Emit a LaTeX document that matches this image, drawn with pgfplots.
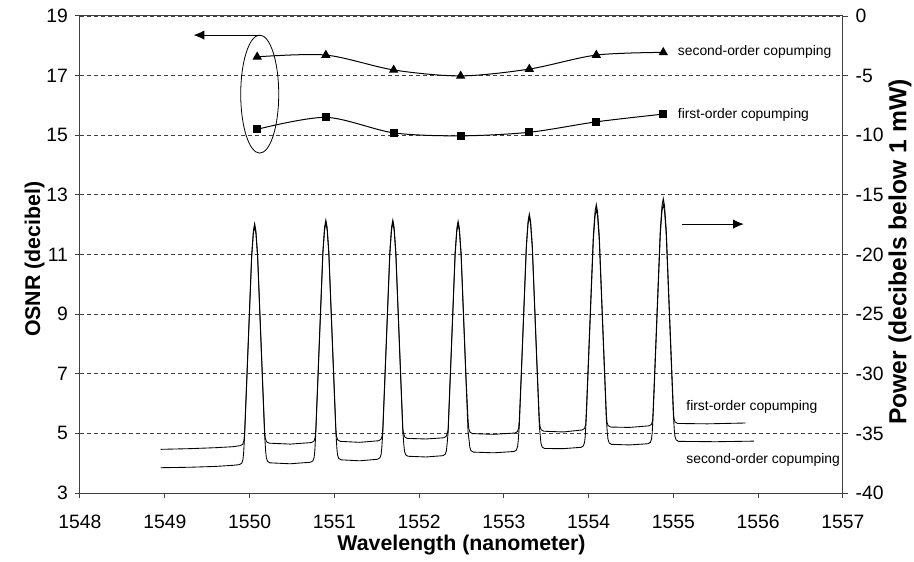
\documentclass[border=0pt]{standalone}
\usepackage{pgfplots}
\pgfplotsset{compat=1.18}
\usepackage{fontspec}
\setmainfont{Liberation Sans}
\usetikzlibrary{arrows.meta}

\pgfplotsset{
  frame/.style={
    scale only axis, width=572.25pt, height=357.75pt,
    at={(0,0)}, anchor=south west,
    xmin=1548, xmax=1557,
    /pgf/number format/assume math mode=true,
    /pgf/number format/1000 sep={},
    ticklabel style={font=\fontsize{14.5}{16}\selectfont},
    label style={font=\fontsize{16}{19}\selectfont\bfseries},
    tick style={black!75, line width=0.75pt},
    axis line style={black!75, line width=0.75pt},
    tick align=outside, major tick length=4pt,
  },
}

\begin{document}
\begin{tikzpicture}
\useasboundingbox (-60pt,-51pt) rectangle (625.5pt,369.75pt);

% OSNR (left scale)
\begin{axis}[frame,
  ymin=3, ymax=19, ytick={3,5,...,19},
  xtick={1548,1549,...,1557},
  xtick pos=bottom, ytick pos=left,
  xticklabel style={yshift=-9pt},
  yticklabel style={xshift=-1.5pt},
  ymajorgrids,
  grid style={black!75, line width=0.6pt, dash pattern=on 3pt off 2.25pt},
  xlabel={Wavelength (nanometer)},
  ylabel={OSNR (decibel)},
  xlabel style={at={(axis description cs:0.5,-0.109)}, anchor=center},
  ylabel style={at={(axis description cs:-0.0595,0.49)}, anchor=center},
  clip=false,
]
\addplot[black, line width=0.75pt, smooth, mark=triangle*, mark size=3.3pt,
  mark options={solid, fill=black}] coordinates {
  (1550.09,17.63) (1550.90,17.69) (1551.70,17.19) (1552.49,16.99)
  (1553.30,17.22) (1554.09,17.69) (1554.88,17.78)};
\addplot[black, line width=0.75pt, smooth, mark=square*, mark size=2.7pt,
  mark options={solid, fill=black}] coordinates {
  (1550.09,15.20) (1550.90,15.60) (1551.70,15.08) (1552.49,14.98)
  (1553.30,15.10) (1554.09,15.45) (1554.88,15.71)};

% grouping of the OSNR curves and the arrows to their scales
\draw[black, line width=0.6pt] (axis cs:1550.12,16.38) ellipse [x radius=14.25pt, y radius=44.25pt];
\draw[black, line width=0.75pt, -{Latex[length=8pt,width=7pt]}]
  (axis cs:1550.12,18.36) -- (axis cs:1549.34,18.36);
\draw[black, line width=0.75pt, -{Latex[length=8pt,width=7pt]}]
  (axis cs:1555.10,12.02) -- (axis cs:1555.83,12.02);

\node[anchor=west, inner sep=0pt, font=\fontsize{10.4}{12}\selectfont]
  at (axis cs:1555.05,17.79) {second-order copumping};
\node[anchor=west, inner sep=0pt, font=\fontsize{10.4}{12}\selectfont]
  at (axis cs:1555.05,15.68) {first-order copumping};
\node[anchor=west, inner sep=0pt, font=\fontsize{10.4}{12}\selectfont]
  at (axis cs:1555.15,5.90) {first-order copumping};
\node[anchor=west, inner sep=0pt, font=\fontsize{10.4}{12}\selectfont]
  at (axis cs:1555.15,4.11) {second-order copumping};
\end{axis}

% optical spectra (right scale)
\begin{axis}[frame,
  ymin=-40, ymax=0, ytick={-40,-35,...,0},
  axis x line=none, axis y line*=right, ytick pos=right,
  yticklabel style={xshift=2pt},
  ylabel={Power (decibels below 1 mW)},
  ylabel style={at={(axis description cs:1.0747,0.505)}, anchor=center,
    font=\fontsize{18.5}{22}\selectfont\bfseries},
]
% first-order copumping
\addplot[black, line width=0.65pt] table {
x y
1548.95 -36.34
1549.30 -36.28
1549.60 -36.20
1549.80 -36.12
1549.89 -36.03
1549.92 -35.91
1549.934 -35.61
1549.942 -34.90
1549.965 -30.80
1549.995 -25.40
1550.025 -20.00
1550.045 -18.00
1550.06 -17.40
1550.075 -18.00
1550.095 -20.00
1550.125 -25.40
1550.155 -30.80
1550.178 -34.90
1550.186 -35.40
1550.20 -35.70
1550.23 -35.82
1550.48 -35.90
1550.73 -35.77
1550.76 -35.65
1550.774 -35.35
1550.782 -34.60
1550.805 -30.50
1550.835 -25.10
1550.865 -19.70
1550.885 -17.70
1550.90 -17.10
1550.915 -17.70
1550.935 -19.70
1550.965 -25.10
1550.995 -30.50
1551.018 -34.60
1551.026 -35.25
1551.04 -35.55
1551.07 -35.67
1551.30 -35.75
1551.52 -35.62
1551.55 -35.50
1551.564 -35.20
1551.572 -34.60
1551.595 -30.50
1551.625 -25.10
1551.655 -19.70
1551.675 -17.70
1551.69 -17.10
1551.705 -17.70
1551.725 -19.70
1551.755 -25.10
1551.785 -30.50
1551.808 -34.60
1551.816 -35.00
1551.83 -35.30
1551.86 -35.42
1552.08 -35.47
1552.29 -35.37
1552.32 -35.25
1552.334 -34.95
1552.342 -34.70
1552.365 -30.60
1552.395 -25.20
1552.425 -19.80
1552.445 -17.80
1552.46 -17.20
1552.475 -17.80
1552.495 -19.80
1552.525 -25.20
1552.555 -30.60
1552.578 -33.95
1552.586 -34.60
1552.60 -34.90
1552.63 -35.02
1552.88 -35.08
1553.13 -34.97
1553.16 -34.85
1553.174 -34.55
1553.182 -33.90
1553.205 -30.00
1553.235 -24.60
1553.265 -19.20
1553.285 -17.20
1553.30 -16.60
1553.315 -17.20
1553.335 -19.20
1553.365 -24.60
1553.395 -30.00
1553.418 -33.75
1553.426 -34.40
1553.44 -34.70
1553.47 -34.82
1553.70 -34.88
1553.92 -34.72
1553.95 -34.60
1553.964 -34.30
1553.972 -33.30
1553.995 -29.20
1554.025 -23.80
1554.055 -18.40
1554.075 -16.40
1554.09 -15.80
1554.105 -16.40
1554.125 -18.40
1554.155 -23.80
1554.185 -29.20
1554.208 -33.30
1554.216 -34.05
1554.23 -34.35
1554.26 -34.47
1554.48 -34.50
1554.71 -34.37
1554.74 -34.25
1554.754 -33.95
1554.762 -32.80
1554.785 -28.70
1554.815 -23.30
1554.845 -17.90
1554.865 -15.90
1554.88 -15.30
1554.895 -15.90
1554.915 -17.90
1554.945 -23.30
1554.975 -28.70
1554.998 -32.80
1555.006 -33.75
1555.02 -34.05
1555.05 -34.17
1555.40 -34.20
1555.85 -34.13
};
% second-order copumping
\addplot[black, line width=0.65pt] table {
x y
1548.95 -37.88
1549.30 -37.84
1549.60 -37.77
1549.80 -37.68
1549.88 -37.62
1549.908 -37.50
1549.922 -37.20
1549.93 -36.65
1549.942 -35.15
1549.965 -31.05
1549.995 -25.65
1550.025 -20.25
1550.045 -18.25
1550.06 -17.65
1550.075 -18.25
1550.095 -20.25
1550.125 -25.65
1550.155 -31.05
1550.178 -35.15
1550.19 -36.50
1550.198 -37.05
1550.212 -37.35
1550.24 -37.47
1550.48 -37.55
1550.72 -37.42
1550.748 -37.30
1550.762 -37.00
1550.77 -36.45
1550.782 -34.85
1550.805 -30.75
1550.835 -25.35
1550.865 -19.95
1550.885 -17.95
1550.90 -17.35
1550.915 -17.95
1550.935 -19.95
1550.965 -25.35
1550.995 -30.75
1551.018 -34.85
1551.03 -36.25
1551.038 -36.80
1551.052 -37.10
1551.08 -37.22
1551.30 -37.30
1551.51 -37.17
1551.538 -37.05
1551.552 -36.75
1551.56 -36.20
1551.572 -34.85
1551.595 -30.75
1551.625 -25.35
1551.655 -19.95
1551.675 -17.95
1551.69 -17.35
1551.705 -17.95
1551.725 -19.95
1551.755 -25.35
1551.785 -30.75
1551.808 -34.85
1551.82 -35.95
1551.828 -36.50
1551.842 -36.80
1551.87 -36.92
1552.08 -36.98
1552.28 -36.87
1552.308 -36.75
1552.322 -36.45
1552.33 -35.90
1552.342 -34.95
1552.365 -30.85
1552.395 -25.45
1552.425 -20.05
1552.445 -18.05
1552.46 -17.45
1552.475 -18.05
1552.495 -20.05
1552.525 -25.45
1552.555 -30.85
1552.578 -34.95
1552.59 -35.60
1552.598 -36.15
1552.612 -36.45
1552.64 -36.57
1552.88 -36.63
1553.12 -36.52
1553.148 -36.40
1553.162 -36.10
1553.17 -35.55
1553.182 -34.35
1553.205 -30.25
1553.235 -24.85
1553.265 -19.45
1553.285 -17.45
1553.30 -16.85
1553.315 -17.45
1553.335 -19.45
1553.365 -24.85
1553.395 -30.25
1553.418 -34.35
1553.43 -35.30
1553.438 -35.85
1553.452 -36.15
1553.48 -36.27
1553.70 -36.28
1553.91 -36.17
1553.938 -36.05
1553.952 -35.75
1553.96 -35.20
1553.972 -33.70
1553.995 -29.60
1554.025 -24.20
1554.055 -18.80
1554.075 -16.80
1554.09 -16.20
1554.105 -16.80
1554.125 -18.80
1554.155 -24.20
1554.185 -29.60
1554.208 -33.70
1554.22 -34.95
1554.228 -35.50
1554.242 -35.80
1554.27 -35.92
1554.48 -35.97
1554.70 -35.87
1554.728 -35.75
1554.742 -35.45
1554.75 -34.90
1554.762 -33.25
1554.785 -29.15
1554.815 -23.75
1554.845 -18.35
1554.865 -16.35
1554.88 -15.75
1554.895 -16.35
1554.915 -18.35
1554.945 -23.75
1554.975 -29.15
1554.998 -33.25
1555.01 -34.70
1555.018 -35.25
1555.032 -35.55
1555.06 -35.67
1555.50 -35.70
1555.95 -35.65
};
\end{axis}
\end{tikzpicture}
\end{document}
